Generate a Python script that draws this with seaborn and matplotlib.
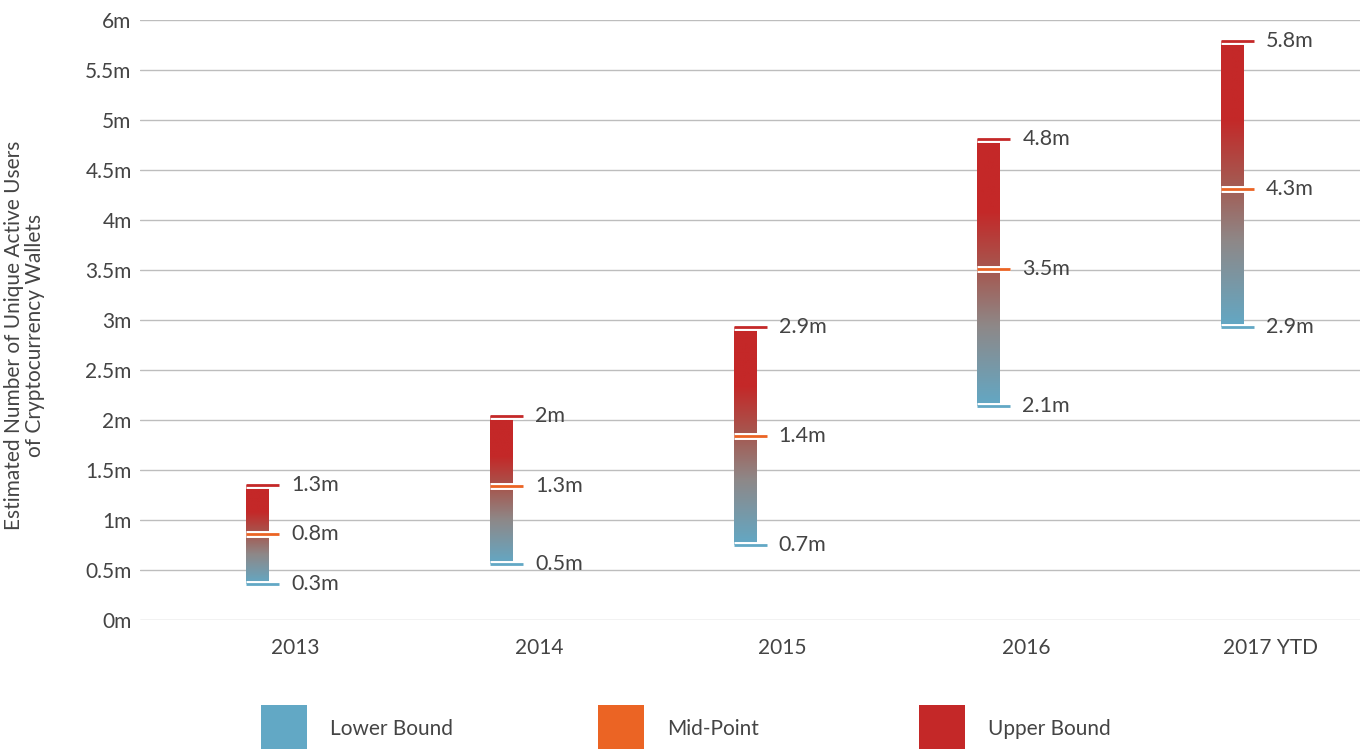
import numpy as np
import matplotlib
matplotlib.use("Agg")
import matplotlib.pyplot as plt
import matplotlib.patheffects as pe
from matplotlib.colors import LinearSegmentedColormap
from matplotlib.patches import Rectangle
import seaborn as sns

# data (millions of users)
years = ["2013", "2014", "2015", "2016", "2017 YTD"]
lower = [0.36, 0.56, 0.75, 2.14, 2.93]
mid = [0.86, 1.34, 1.84, 3.51, 4.31]
upper = [1.35, 2.04, 2.93, 4.81, 5.79]
lower_labels = ["0.3m", "0.5m", "0.7m", "2.1m", "2.9m"]
mid_labels = ["0.8m", "1.3m", "1.4m", "3.5m", "4.3m"]
upper_labels = ["1.3m", "2m", "2.9m", "4.8m", "5.8m"]
y_ticks = [0, 0.5, 1, 1.5, 2, 2.5, 3, 3.5, 4, 4.5, 5, 5.5, 6]
y_tick_labels = ["0m", "0.5m", "1m", "1.5m", "2m", "2.5m", "3m", "3.5m",
                 "4m", "4.5m", "5m", "5.5m", "6m"]

BLUE, ORANGE, RED = "#62A8C5", "#EB6424", "#C42828"
TEXT = "#444444"

sns.set_theme(style="whitegrid")
plt.rcParams["font.family"] = ["Lato", "DejaVu Sans"]

fig = plt.figure(figsize=(13.65, 7.49), dpi=100)
ax = fig.add_axes([140 / 1365, 129 / 749, 1220 / 1365, 600 / 749])

# blue at the lower bound, through grey and brown, to red near the top
grad = LinearSegmentedColormap.from_list(
    "bound", [(0, BLUE), (0.3, "#8E8888"), (0.5, "#A45A52"), (0.73, RED), (1, RED)])
g = np.linspace(0, 1, 256).reshape(-1, 1)

bar_off, bar_w, tick_w = -0.201, 0.094, 0.136
for i in range(len(years)):
    x0 = i + bar_off
    ax.imshow(g, cmap=grad, origin="lower", aspect="auto",
              extent=[x0, x0 + bar_w, lower[i], upper[i]], zorder=2)
    for val, col, lab in [(lower[i], BLUE, lower_labels[i]),
                          (mid[i], ORANGE, mid_labels[i]),
                          (upper[i], RED, upper_labels[i])]:
        ax.hlines(val, x0, x0 + tick_w, color=col, lw=2, zorder=3,
                  path_effects=[pe.Stroke(linewidth=5, foreground="white"), pe.Normal()])
        ax.text(i - 0.016, val, lab, ha="left", va="center",
                fontsize=15.5, color=TEXT)

ax.set_xlim(-0.636, 4.369)
ax.set_ylim(0, 6)
ax.set_xticks(range(len(years)), labels=years)
ax.set_yticks(y_ticks, labels=y_tick_labels)
ax.grid(axis="x", visible=False)
ax.grid(axis="y", color="#bdbdbd", lw=1)
ax.set_axisbelow(True)
ax.set_facecolor("white")
sns.despine(ax=ax, left=True, bottom=True)
ax.tick_params(axis="both", labelsize=15, colors=TEXT, length=0)
ax.tick_params(axis="x", pad=13)
ax.tick_params(axis="y", pad=6)
ax.set_ylabel("Estimated Number of Unique Active Users\nof Cryptocurrency Wallets",
              fontsize=15, color=TEXT, linespacing=1.05)
ax.yaxis.set_label_coords(-0.078, 0.475)

# legend along the bottom
legend_items = [("Lower Bound", BLUE, 261), ("Mid-Point", ORANGE, 598), ("Upper Bound", RED, 919)]
for name, col, px in legend_items:
    fig.add_artist(Rectangle((px / 1365, 0), 46 / 1365, 44 / 749,
                             transform=fig.transFigure, color=col, lw=0))
    fig.text((px + 69) / 1365, 20 / 749, name, fontsize=15, color=TEXT,
             ha="left", va="center")

fig.savefig("out.png", dpi=100, facecolor="white")
